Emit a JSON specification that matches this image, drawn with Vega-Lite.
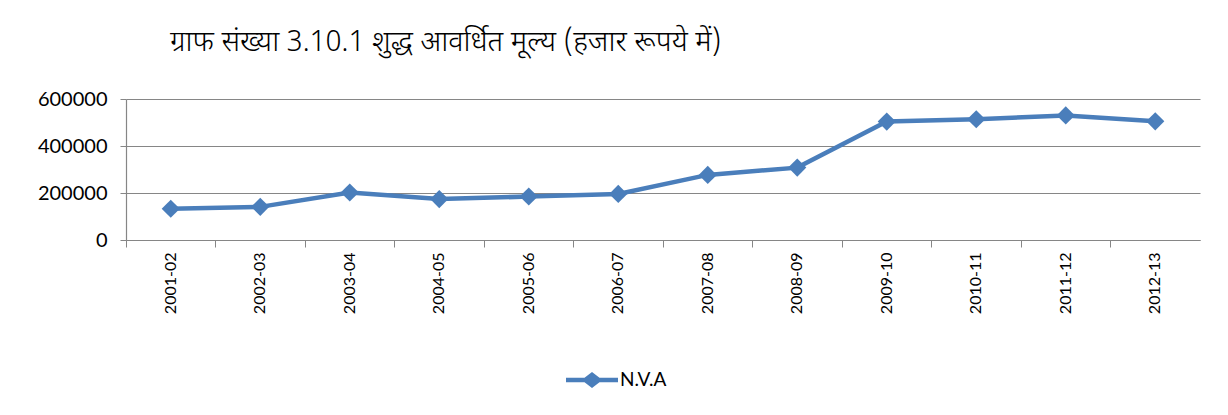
{
  "$schema": "https://vega.github.io/schema/vega-lite/v6.json",
  "width": 1074,
  "height": 141,
  "autosize": {"type": "none"},
  "padding": {"left": 126, "top": 99, "right": 28, "bottom": 175},
  "background": "white",
  "title": {
    "text": "ग्राफ संख्या 3.10.1 शुद्ध आवर्धित मूल्य (हजार रूपये में)",
    "anchor": "start",
    "frame": "group",
    "dx": 44,
    "offset": 32,
    "font": "Noto Sans Devanagari, Lato, sans-serif",
    "fontSize": 29,
    "fontWeight": 300,
    "color": "#000000"
  },
  "data": {
    "values": [
      {"year": "2001-02", "value": 133000, "series": "N.V.A"},
      {"year": "2002-03", "value": 141000, "series": "N.V.A"},
      {"year": "2003-04", "value": 202000, "series": "N.V.A"},
      {"year": "2004-05", "value": 174000, "series": "N.V.A"},
      {"year": "2005-06", "value": 185000, "series": "N.V.A"},
      {"year": "2006-07", "value": 196000, "series": "N.V.A"},
      {"year": "2007-08", "value": 277000, "series": "N.V.A"},
      {"year": "2008-09", "value": 308000, "series": "N.V.A"},
      {"year": "2009-10", "value": 504000, "series": "N.V.A"},
      {"year": "2010-11", "value": 514000, "series": "N.V.A"},
      {"year": "2011-12", "value": 530000, "series": "N.V.A"},
      {"year": "2012-13", "value": 505000, "series": "N.V.A"}
    ]
  },
  "mark": {
    "type": "line",
    "strokeWidth": 4.5,
    "point": {"shape": "diamond", "size": 330, "filled": true, "opacity": 1}
  },
  "encoding": {
    "x": {
      "field": "year",
      "type": "nominal",
      "sort": null,
      "scale": {"type": "band", "paddingInner": 0, "paddingOuter": 0},
      "axis": {
        "title": null,
        "labelAngle": -90,
        "labelAlign": "right",
        "labelBaseline": "middle",
        "labelFont": "Lato",
        "labelFontSize": 16,
        "labelColor": "#000000",
        "labelPadding": 5,
        "bandPosition": 0,
        "ticks": true,
        "tickSize": 7,
        "tickColor": "#868686",
        "domainColor": "#868686",
        "domainWidth": 1.2,
        "grid": false
      }
    },
    "y": {
      "field": "value",
      "type": "quantitative",
      "scale": {"domain": [0, 600000], "nice": false},
      "axis": {
        "title": null,
        "values": [0, 200000, 400000, 600000],
        "format": "d",
        "labelFont": "Lato",
        "labelFontSize": 20,
        "labelColor": "#000000",
        "labelPadding": 13,
        "tickSize": 6,
        "tickColor": "#868686",
        "domainColor": "#868686",
        "domainWidth": 1.2,
        "gridColor": "#868686",
        "gridWidth": 1.2
      }
    },
    "color": {
      "field": "series",
      "type": "nominal",
      "scale": {"range": ["#4a7ebb"]},
      "legend": {
        "title": null,
        "orient": "none",
        "legendX": 456,
        "legendY": 271,
        "symbolType": "M-2.6,-0.22 H-0.75 L0,-0.8 L0.75,-0.22 H2.6 V0.22 H0.75 L0,0.8 L-0.75,0.22 H-2.6 Z",
        "symbolSize": 400,
        "symbolFillColor": "#4a7ebb",
        "symbolStrokeWidth": 0,
        "labelFont": "Lato",
        "labelFontSize": 19,
        "labelColor": "#000000",
        "labelOffset": 18
      }
    }
  },
  "config": {"view": {"stroke": null}}
}
